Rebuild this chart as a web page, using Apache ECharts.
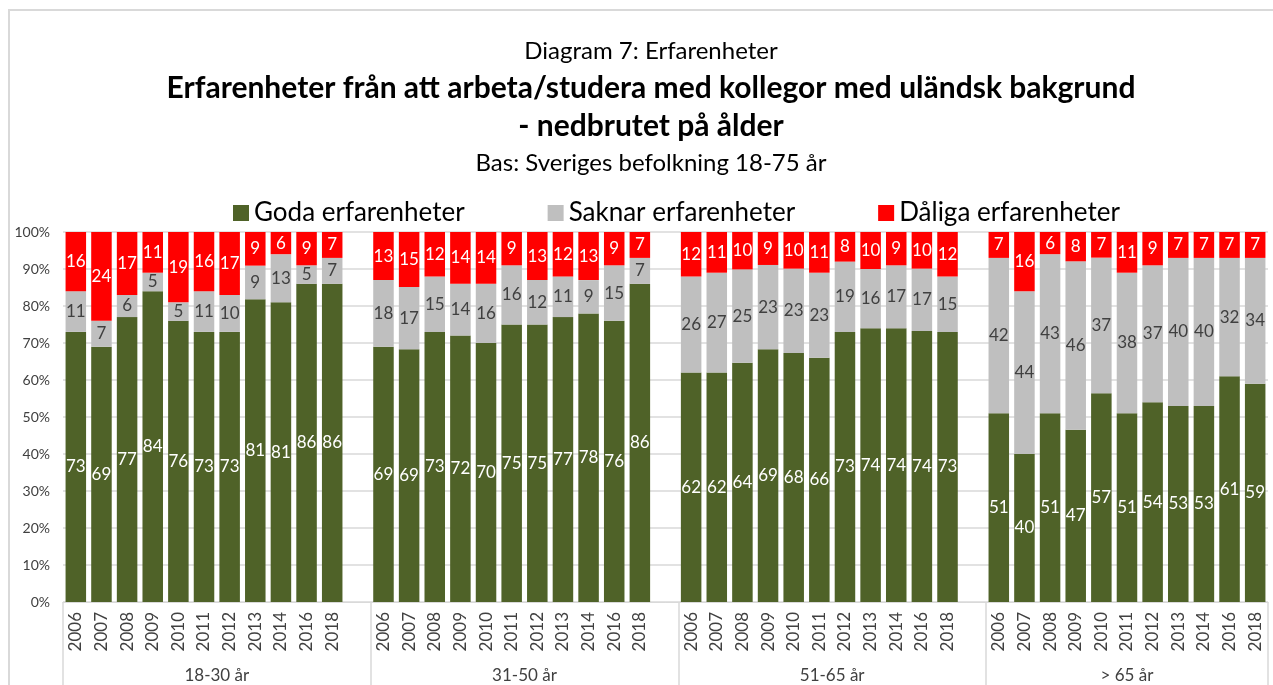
<!DOCTYPE html>
<html>
<head>
    <meta charset="utf-8">
    <title>Diagram 7: Erfarenheter</title>
    <script src="https://cdn.jsdelivr.net/npm/echarts@6/dist/echarts.min.js"></script>
    <style>
        body { margin: 0; background: #fff; }
    </style>
</head>
<body>
    <div id="main" style="width: 1273px;height:685px;"></div>

    <script type="text/javascript">
        // tick labels
        var years = ['2006', '2007', '2008', '2009', '2010', '2011', '2012', '2013', '2014', '2016', '2018'];
        var groups = ['18-30 år', '31-50 år', '51-65 år', '> 65 år'];

        // values per age group, one row per group (same order as years)
        var goda = [
            [73, 69, 77, 84, 76, 73, 73, 81, 81, 86, 86],
            [69, 69, 73, 72, 70, 75, 75, 77, 78, 76, 86],
            [62, 62, 64, 69, 68, 66, 73, 74, 74, 74, 73],
            [51, 40, 51, 47, 57, 51, 54, 53, 53, 61, 59]
        ];
        var saknar = [
            [11, 7, 6, 5, 5, 11, 10, 9, 13, 5, 7],
            [18, 17, 15, 14, 16, 16, 12, 11, 9, 15, 7],
            [26, 27, 25, 23, 23, 23, 19, 16, 17, 17, 15],
            [42, 44, 43, 46, 37, 38, 37, 40, 40, 32, 34]
        ];
        var daliga = [
            [16, 24, 17, 11, 19, 16, 17, 9, 6, 9, 7],
            [13, 15, 12, 14, 14, 9, 13, 12, 13, 9, 7],
            [12, 11, 10, 9, 10, 11, 8, 10, 9, 10, 12],
            [7, 16, 6, 8, 7, 11, 9, 7, 7, 7, 7]
        ];

        var FONT = 'Lato';

        // flatten into one category axis, with an empty slot after each group (like Excel)
        var cats = [];
        var sGoda = [], sSaknar = [], sDaliga = [];
        var groupStart = [];
        groups.forEach(function (g, gi) {
            groupStart.push(cats.length);
            years.forEach(function (y, i) {
                var a = goda[gi][i], b = saknar[gi][i], c = daliga[gi][i];
                var sum = a + b + c; // 100% stacked
                cats.push(y);
                sGoda.push({ value: a / sum * 100, raw: a });
                sSaknar.push({ value: b / sum * 100, raw: b });
                sDaliga.push({ value: c / sum * 100, raw: c });
            });
            if (gi < groups.length - 1) {
                cats.push('');
                sGoda.push('-');
                sSaknar.push('-');
                sDaliga.push('-');
            }
        });
        var n = cats.length;
        var bounds = groupStart.concat([n]);
        var mids = [];
        for (var i = 0; i < groups.length; i++) {
            var end = (i < groups.length - 1) ? bounds[i + 1] : n;
            mids.push((bounds[i] + end) / 2);
        }

        function barLabel(color) {
            return {
                show: true,
                position: 'inside',
                color: color,
                fontFamily: FONT,
                fontSize: 17,
                formatter: function (p) { return p.data.raw; }
            };
        }

        var myChart = echarts.init(document.getElementById('main'));

        var option = {
            textStyle: { fontFamily: FONT },
            title: [{
                text: 'Diagram 7: Erfarenheter',
                left: 646, top: 34, textAlign: 'center',
                textStyle: { fontFamily: FONT, fontSize: 24, fontWeight: 'normal', color: '#000' }
            }, {
                text: 'Erfarenheter från att arbeta/studera med kollegor med uländsk bakgrund\n- nedbrutet på ålder',
                left: 646, top: 64, textAlign: 'center',
                textStyle: { fontFamily: FONT, fontSize: 30, fontWeight: 'bold', color: '#000', lineHeight: 38 }
            }, {
                text: 'Bas: Sveriges befolkning 18-75 år',
                left: 646, top: 146, textAlign: 'center',
                textStyle: { fontFamily: FONT, fontSize: 24, fontWeight: 'normal', color: '#000' }
            }],
            legend: {
                top: 195, left: 228,
                icon: 'rect', itemWidth: 16, itemHeight: 16, itemGap: 83,
                textStyle: { fontFamily: FONT, fontSize: 26, color: '#000' },
                data: ['Goda erfarenheter', 'Saknar erfarenheter', 'Dåliga erfarenheter']
            },
            graphic: [{
                type: 'rect', z: -10, silent: true,
                shape: { x: 9, y: 10, width: 1300, height: 700 },
                style: { fill: 'none', stroke: '#d9d9d9', lineWidth: 2 }
            }],
            grid: { left: 63, right: 5, top: 232, bottom: 83 },
            xAxis: [{
                type: 'category',
                data: cats,
                axisLine: { lineStyle: { color: '#d9d9d9' } },
                axisTick: { show: false },
                axisLabel: { interval: 0, rotate: 90, margin: 10, fontSize: 17, color: '#404040', fontFamily: FONT }
            }, {
                type: 'value',
                position: 'bottom',
                min: 0, max: n,
                axisLine: { show: false },
                splitLine: { show: false },
                axisTick: { show: true, customValues: bounds, length: 90, lineStyle: { color: '#d9d9d9', width: 1.5 } },
                axisLabel: {
                    customValues: mids, margin: 65, fontSize: 17, color: '#404040', fontFamily: FONT,
                    formatter: function (v) { return groups[mids.indexOf(v)] || ''; }
                }
            }],
            yAxis: {
                type: 'value',
                min: 0, max: 100, interval: 10,
                axisLine: { show: false },
                axisTick: { show: false },
                axisLabel: { formatter: '{value}%', fontSize: 14, color: '#404040', margin: 13, fontFamily: FONT },
                splitLine: { lineStyle: { color: '#d9d9d9', width: 1.5 } }
            },
            series: [{
                name: 'Goda erfarenheter', type: 'bar', stack: 'all', xAxisIndex: 0,
                barCategoryGap: '20%',
                itemStyle: { color: '#4f6228' },
                label: barLabel('#fff'),
                data: sGoda
            }, {
                name: 'Saknar erfarenheter', type: 'bar', stack: 'all', xAxisIndex: 0,
                itemStyle: { color: '#bfbfbf' },
                label: barLabel('#404040'),
                data: sSaknar
            }, {
                name: 'Dåliga erfarenheter', type: 'bar', stack: 'all', xAxisIndex: 0,
                itemStyle: { color: '#ff0000' },
                label: barLabel('#fff'),
                data: sDaliga
            }]
        };

        myChart.setOption(option);
    </script>
</body>
</html>
